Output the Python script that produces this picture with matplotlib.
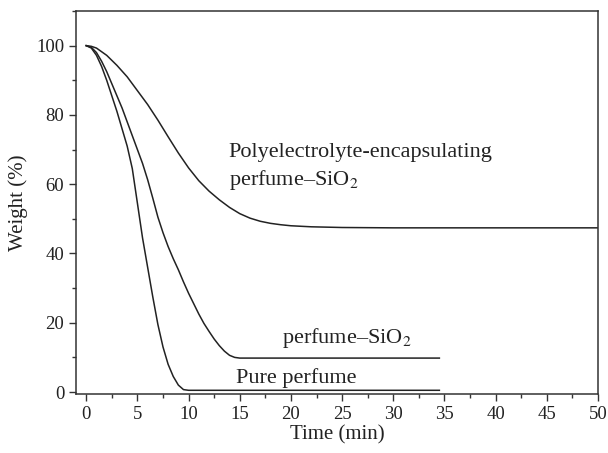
import matplotlib
matplotlib.use("Agg")
import matplotlib.pyplot as plt
from matplotlib.ticker import MultipleLocator

# values (time in min, weight in %)
pure_t = [0, 0.5, 1, 1.5, 2, 2.5, 3, 3.5, 4, 4.5, 5, 5.5, 6, 6.5, 7, 7.5,
          8, 8.5, 9, 9.5, 10, 15, 20, 25, 30, 34.5]
pure_w = [100, 99.3, 97.2, 94, 90, 85.5, 81, 76, 71, 64.5, 54.5, 44.5, 36,
          27.5, 19.5, 13, 8, 4.5, 2, 0.7, 0.5, 0.5, 0.5, 0.5, 0.5, 0.5]

sio2_t = [0, 0.5, 1, 1.5, 2, 2.5, 3, 3.5, 4, 4.5, 5, 5.5, 6, 6.5, 7, 7.5,
          8, 8.5, 9, 9.5, 10, 10.5, 11, 11.5, 12, 12.5, 13, 13.5, 14, 14.5,
          15, 20, 25, 30, 34.5]
sio2_w = [100, 99.5, 98, 95.5, 92.5, 89, 85.5, 82, 78, 74, 70, 66, 61.3, 56,
          50.5, 46, 42, 38.5, 35.3, 31.8, 28.5, 25.5, 22.5, 19.8, 17.5, 15.3,
          13.4, 11.8, 10.6, 10, 9.8, 9.8, 9.8, 9.8, 9.8]

poly_t = [0, 0.5, 1, 2, 3, 4, 5, 6, 7, 8, 9, 10, 11, 12, 13, 14, 15, 16, 17,
          18, 19, 20, 22, 25, 30, 40, 50]
poly_w = [100, 99.8, 99.3, 97.2, 94.3, 91, 87, 83, 78.5, 73.7, 69, 64.7, 61,
          58, 55.5, 53.3, 51.5, 50.2, 49.3, 48.7, 48.3, 48, 47.7, 47.5, 47.4,
          47.4, 47.4]

x_ticks = list(range(0, 51, 5))
y_ticks = [0, 20, 40, 60, 80, 100]

plt.rcParams["font.family"] = ["Liberation Serif", "DejaVu Serif"]
plt.rcParams["mathtext.fontset"] = "stix"

fig = plt.figure(figsize=(6.08, 4.53), dpi=100)
ax = fig.add_axes([0.125, 0.130, 0.8586, 0.8457])

line_kw = dict(color="#222222", linewidth=1.1)
ax.plot(pure_t, pure_w, **line_kw)
ax.plot(sio2_t, sio2_w, **line_kw)
ax.plot(poly_t, poly_w, **line_kw)

ax.set_xlim(-1, 50)
ax.set_ylim(-0.6, 110)
ax.set_xticks(x_ticks)
ax.set_yticks(y_ticks)
ax.xaxis.set_minor_locator(MultipleLocator(2.5))
ax.yaxis.set_minor_locator(MultipleLocator(10))
ax.tick_params(which="both", direction="out", width=1.0, color="#333333",
               labelsize=13.5, labelcolor="#222222")
ax.tick_params(which="major", length=5)
ax.tick_params(which="minor", length=3)
for s in ax.spines.values():
    s.set_linewidth(1.1)
    s.set_color("#333333")

ax.set_xlabel("Time (min)", fontsize=15, color="#222222", labelpad=2)
ax.set_ylabel("Weight (%)", fontsize=15, color="#222222", labelpad=6)

txt = dict(fontsize=16, color="#222222", va="baseline", ha="left")
ax.text(13.9, 67.9, "Polyelectrolyte-encapsulating", **txt)
ax.text(13.9, 59.8, "perfume\u2013SiO$_2$", **txt)
ax.text(19.1, 14.2, "perfume\u2013SiO$_2$", **txt)
ax.text(14.6, 2.6, "Pure perfume", **txt)

fig.savefig("out.png", dpi=100)
